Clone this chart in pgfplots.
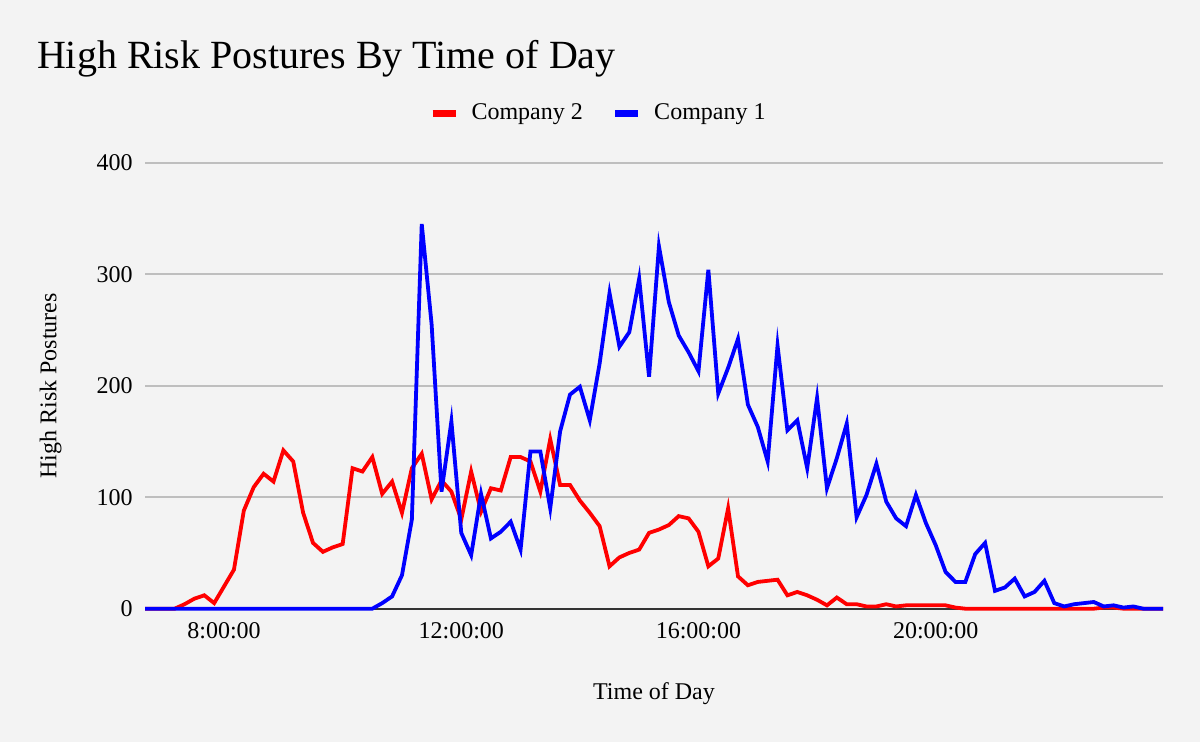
\documentclass[border=0pt]{standalone}
\usepackage{fontspec}
\setmainfont{Liberation Serif}
\usepackage{pgfplots}
\pgfplotsset{compat=1.18}
\usepackage{pgfplotstable}

\definecolor{bg}{RGB}{243,243,243}
\definecolor{gridgray}{RGB}{190,190,190}
\definecolor{basegray}{RGB}{51,51,51}

% t = minutes since midnight, c2 = Company 2, c1 = Company 1
\pgfplotstableread{
t c2 c1
400 0 0
410 0 0
420 0 0
430 0 0
440 4 0
450 9 0
460 12 0
470 5 0
480 20 0
490 35 0
500 88 0
510 109 0
520 121 0
530 114 0
540 142 0
550 132 0
560 86 0
570 59 0
580 51 0
590 55 0
600 58 0
610 126 0
620 123 0
630 136 0
640 103 5
650 114 11
660 86 30
670 126 80
680 139 345
690 98 255
700 115 105
710 105 168
720 80 68
730 123 48
740 87 103
750 108 63
760 106 69
770 136 78
780 136 53
790 132 141
800 105 141
810 152 90
820 111 159
830 111 192
840 97 199
850 86 169
860 74 220
870 38 283
880 46 235
890 50 248
900 53 296
910 68 208
920 71 325
930 75 275
940 83 245
950 81 230
960 69 213
970 38 304
980 45 193
990 90 216
1000 29 242
1010 21 183
1020 24 163
1030 25 132
1040 26 236
1050 12 160
1060 15 169
1070 12 126
1080 8 189
1090 3 108
1100 10 135
1110 4 166
1120 4 82
1130 2 102
1140 2 130
1150 4 96
1160 2 81
1170 3 74
1180 3 102
1190 3 77
1200 3 57
1210 3 33
1220 1 24
1230 0 24
1240 0 49
1250 0 59
1260 0 16
1270 0 19
1280 0 27
1290 0 11
1300 0 15
1310 0 25
1320 0 5
1330 0 2
1340 0 4
1350 0 5
1360 0 6
1370 1 2
1380 1 3
1390 0 1
1400 0 2
1410 0 0
1420 0 0
1430 0 0
}\postures

\begin{document}
\begin{tikzpicture}
\fill[bg] (0,0) rectangle (600pt,371pt);
\node[anchor=base west, inner sep=0pt, font=\fontsize{20}{24}\selectfont]
  at (18.35pt,336.85pt) {High Risk Postures By Time of Day};
\begin{axis}[
  at={(72.5pt,66.65pt)}, anchor=south west,
  scale only axis, width=509pt, height=223pt,
  xmin=400, xmax=1430, ymin=0, ymax=400,
  xtick={480,720,960,1200},
  xticklabels={8:00:00,12:00:00,16:00:00,20:00:00},
  ytick={0,100,200,300,400},
  ymajorgrids,
  grid style={gridgray, line width=1pt},
  extra y ticks={0}, extra y tick labels={},
  extra y tick style={grid style={basegray, line width=1pt}, tick style={draw=none}},
  axis line style={draw=none},
  major tick style={draw=none},
  tick label style={font=\fontsize{12}{14}\selectfont},
  /pgf/number format/assume math mode=true,
  xticklabel style={yshift=-3.3pt},
  yticklabel style={xshift=-2.65pt},
  xlabel={Time of Day}, ylabel={High Risk Postures},
  label style={font=\fontsize{12}{14}\selectfont},
  xlabel style={at={(axis description cs:0.5,-0.1897)}, anchor=center},
  ylabel style={at={(axis description cs:-0.0927,0.5)}, anchor=center},
  clip=false,
  legend columns=2,
  legend style={draw=none, fill=none, inner sep=0pt,
    at={(0.2787,1.1103)}, anchor=west,
    font=\fontsize{12}{14}\selectfont, nodes={inner sep=2pt},
    /tikz/every odd column/.append style={column sep=4.2pt},
    /tikz/every even column/.append style={column sep=12.5pt}},
  legend image code/.code={\draw[#1, line width=3.5pt] (0pt,0pt) -- (11.5pt,0pt);},
]
\addplot[red, line width=1.9pt] table[x=t, y=c2] {\postures};
\addlegendentry{Company 2}
\addplot[blue, line width=1.9pt] table[x=t, y=c1] {\postures};
\addlegendentry{Company 1}
\end{axis}
\end{tikzpicture}
\end{document}
